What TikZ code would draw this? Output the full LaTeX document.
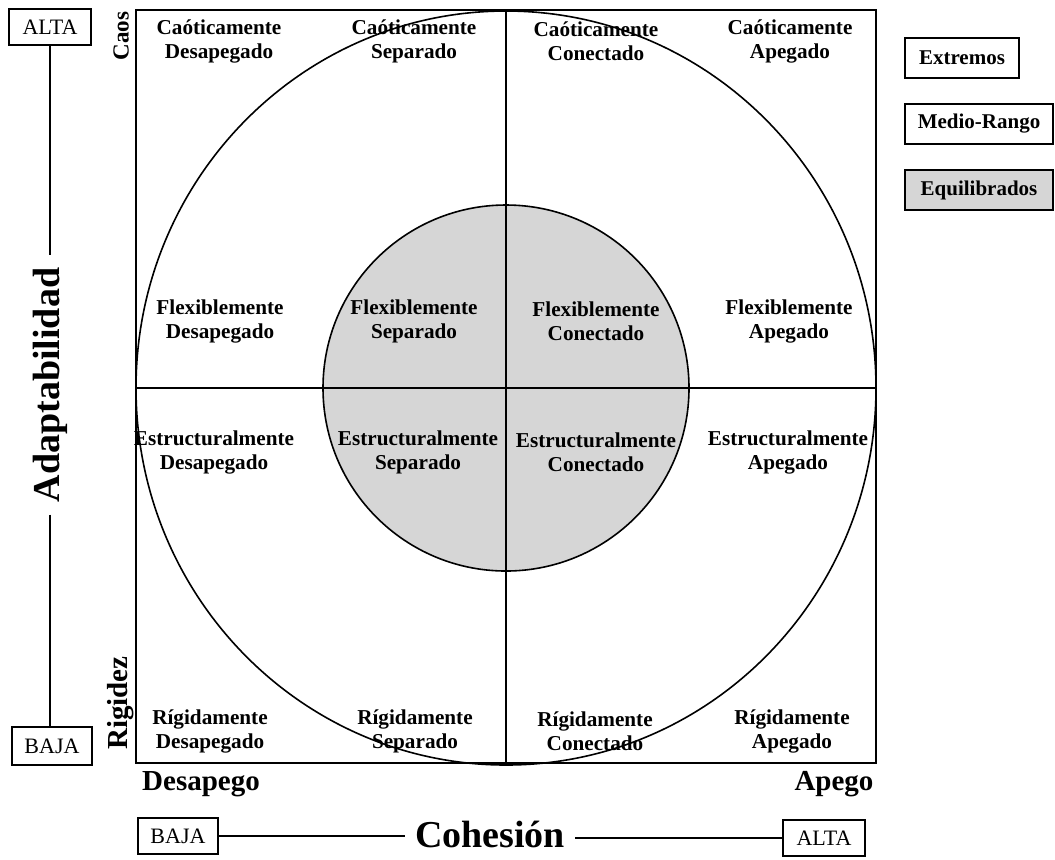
\documentclass[tikz,border=0pt]{standalone}
\usepackage{fontspec}
\setmainfont{Liberation Serif}
\definecolor{EqGray}{gray}{0.84}
\tikzset{
    cell/.style = {align=center, inner sep=0pt,
        font=\bfseries\fontsize{10.6}{12}\selectfont},
    pole/.style = {inner sep=0pt, font=\bfseries\fontsize{14.5}{16}\selectfont},
    dim/.style = {inner sep=0pt, font=\bfseries\fontsize{19}{21}\selectfont},
    level/.style = {draw, rectangle, line width=0.7pt, inner sep=0pt,
        minimum width=41pt, minimum height=18pt,
        font=\fontsize{11}{12}\selectfont},
    legend/.style = {draw, rectangle, line width=0.8pt, inner sep=0pt,
        minimum height=20pt, font=\bfseries\fontsize{10.5}{12}\selectfont},
    link/.style = {draw, line width=0.7pt}
}
\begin{document}
\begin{tikzpicture}[x=0.5pt,y=-0.5pt]
        \useasboundingbox (0,0) rectangle (1055,859);
        % circumplex
        \fill[color=EqGray] (506,388) circle (183);
        \draw[line width=0.8pt] (506,388) circle (183);
        \draw[line width=0.8pt] (506,388) ellipse (370 and 377);
        \draw[line width=0.8pt] (506,10) -- (506,763);
        \draw[line width=0.8pt] (136,388) -- (876,388);
        \draw[line width=1pt] (136,10) rectangle (876,763);
        % tipos
        \node[cell] (c11) at (219,41) {Caóticamente\\Desapegado};
        \node[cell] (c12) at (414,41) {Caóticamente\\Separado};
        \node[cell] (c13) at (596,41) {Caóticamente\\Conectado};
        \node[cell] (c14) at (790,41) {Caóticamente\\Apegado};
        \node[cell] (f11) at (220,321) {Flexiblemente\\Desapegado};
        \node[cell] (f12) at (414,321) {Flexiblemente\\Separado};
        \node[cell] (f13) at (596,321) {Flexiblemente\\Conectado};
        \node[cell] (f14) at (789,321) {Flexiblemente\\Apegado};
        \node[cell] (e11) at (214,452) {Estructuralmente\\Desapegado};
        \node[cell] (e12) at (418,452) {Estructuralmente\\Separado};
        \node[cell] (e13) at (596,452) {Estructuralmente\\Conectado};
        \node[cell] (e14) at (788,452) {Estructuralmente\\Apegado};
        \node[cell] (r11) at (210,731) {Rígidamente\\Desapegado};
        \node[cell] (r12) at (415,731) {Rígidamente\\Separado};
        \node[cell] (r13) at (595,731) {Rígidamente\\Conectado};
        \node[cell] (r14) at (792,731) {Rígidamente\\Apegado};
        % polos
        \node[pole, rotate=90, font=\bfseries\fontsize{11.5}{13}\selectfont] (caos) at (121,36) {Caos};
        \node[pole, rotate=90] (rigidez) at (121,703) {Rigidez};
        \node[pole] (desapego) at (201,784) {Desapego};
        \node[pole] (apego) at (834,784) {Apego};
        % dimensiones
        \node[level] (altaA) at (50,27) {ALTA};
        \node[level, minimum width=40pt, minimum height=19pt] (bajaA) at (52,746) {BAJA};
        \node[dim, rotate=90, inner xsep=6pt] (adapt) at (50,385) {Adaptabilidad};
        \node[level, minimum width=40pt] (bajaC) at (178,836) {BAJA};
        \node[level] (altaC) at (824,838) {ALTA};
        \node[dim, inner xsep=5pt] (cohesion) at (490,834) {Cohesión};
        \draw[link] (altaA.south) -- (altaA.south |- adapt.east);
        \draw[link] (altaA.south |- adapt.west) -- (altaA.south |- bajaA.north);
        \draw[link] (bajaC.east) -- (bajaC.east -| cohesion.west);
        \draw[link] (altaC.west -| cohesion.east) -- (altaC.west);
        % leyenda
        \node[legend, minimum width=57pt] (ext) at (962,58) {Extremos};
        \node[legend, minimum width=74pt] (med) at (979,124) {Medio-Rango};
        \node[legend, minimum width=74pt, fill=EqGray] (equ) at (979,190) {Equilibrados};
    \end{tikzpicture}
\end{document}
